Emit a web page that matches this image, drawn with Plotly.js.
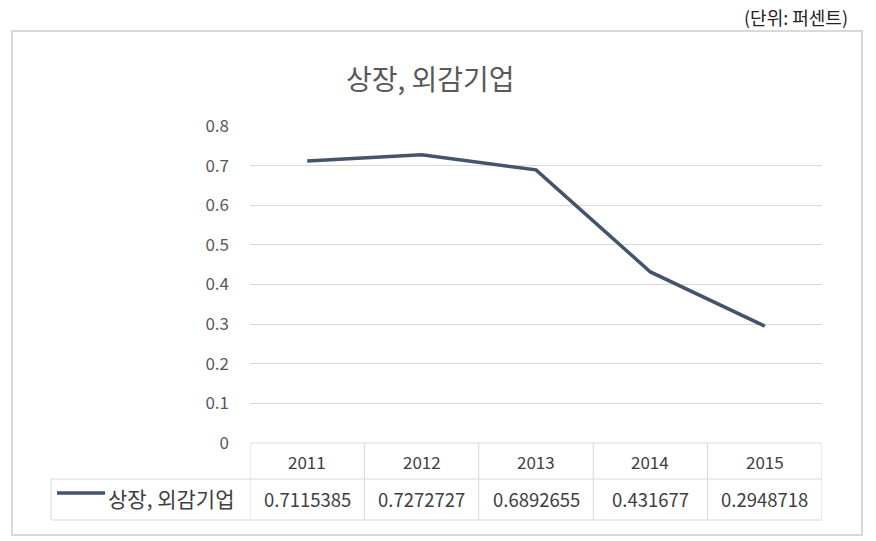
<!DOCTYPE html>
<html><head><meta charset="utf-8">
<script src="https://cdn.plot.ly/plotly-3.0.1.min.js"></script>
<style>html,body{margin:0;padding:0;background:#fff;}#chart{width:876px;height:541px;}</style>
</head><body><div id="chart"></div>
<script>
const categories = ['2011','2012','2013','2014','2015'];
const seriesName = '상장, 외감기업';
const values = [0.7115385, 0.7272727, 0.6892655, 0.431677, 0.2948718];
const valueLabels = ['0.7115385','0.7272727','0.6892655','0.431677','0.2948718'];
const yTicks = [0,0.1,0.2,0.3,0.4,0.5,0.6,0.7,0.8];
const yTickLabels = ['0','0.1','0.2','0.3','0.4','0.5','0.6','0.7','0.8'];

const W=876,H=541, L=250,R=822,T=126,B=443;
const pw=R-L, ph=B-T;
const px = p => (p-L)/pw;
const py = p => (B-p)/ph;
const font = '"Noto Sans CJK KR","Noto Sans",sans-serif';
const grid = '#d9d9d9';
const idx = categories.map((c,i)=>i);

const shapes = [];
const ann = [];
// outer frame
shapes.push({type:'rect',xref:'paper',yref:'paper',x0:px(12),x1:px(862),y0:py(535),y1:py(31),line:{color:'#d9d9d9',width:2},fillcolor:'rgba(0,0,0,0)',layer:'below'});
// table horizontal lines
shapes.push({type:'line',xref:'paper',yref:'paper',x0:0,x1:1,y0:py(443),y1:py(443),line:{color:grid,width:1}});
shapes.push({type:'line',xref:'paper',yref:'paper',x0:px(51),x1:1,y0:py(479),y1:py(479),line:{color:grid,width:1}});
shapes.push({type:'line',xref:'paper',yref:'paper',x0:px(51),x1:1,y0:py(520),y1:py(520),line:{color:grid,width:1}});
shapes.push({type:'line',xref:'paper',yref:'paper',x0:px(51),x1:px(51),y0:py(479),y1:py(520),line:{color:grid,width:1}});
// vertical column lines
for(let i=0;i<=categories.length;i++){
  shapes.push({type:'line',xref:'x',yref:'paper',x0:i-0.5,x1:i-0.5,y0:py(443),y1:py(520),line:{color:grid,width:1}});
}
// legend key line
shapes.push({type:'line',xref:'paper',yref:'paper',x0:px(57),x1:px(105),y0:py(493),y1:py(493),line:{color:'#44546a',width:3.5}});
ann.push({xref:'paper',yref:'paper',x:px(106),y:py(498),xanchor:'left',yanchor:'middle',text:seriesName,showarrow:false,font:{family:font,size:21,color:'#404040'}});
categories.forEach((c,i)=>{
  ann.push({xref:'x',yref:'paper',x:i,y:py(461),text:c,showarrow:false,xanchor:'center',yanchor:'middle',font:{family:font,size:17,color:'#404040'}});
  ann.push({xref:'x',yref:'paper',x:i,y:py(499),text:valueLabels[i],showarrow:false,xanchor:'center',yanchor:'middle',font:{family:font,size:18.5,color:'#404040'}});
});
// title
ann.push({xref:'paper',yref:'paper',x:px(430),y:py(78),text:seriesName,showarrow:false,xanchor:'center',yanchor:'middle',font:{family:font,size:28,color:'#595959'}});
// unit
ann.push({xref:'paper',yref:'paper',x:px(850),y:py(17),text:'(단위: 퍼센트)',showarrow:false,xanchor:'right',yanchor:'middle',font:{family:font,size:18,color:'#222'}});

const trace = {x:idx,y:values,type:'scatter',mode:'lines',line:{color:'#44546a',width:3.5},hoverinfo:'skip',cliponaxis:false};
const layout = {
  width:W,height:H,margin:{l:L,r:W-R,t:T,b:H-B,pad:0},
  paper_bgcolor:'#fff',plot_bgcolor:'#fff',showlegend:false,
  xaxis:{range:[-0.5,categories.length-0.5],showgrid:false,zeroline:false,showticklabels:false,showline:false,ticks:'',fixedrange:true},
  yaxis:{range:[0,0.8],tickvals:yTicks,ticktext:yTickLabels,showgrid:true,gridcolor:grid,gridwidth:1,zeroline:false,showline:false,ticks:'',ticklabelstandoff:20,
    tickfont:{family:font,size:17,color:'#595959'},fixedrange:true},
  shapes:shapes,annotations:ann
};
Plotly.newPlot('chart',[trace],layout,{staticPlot:true,displayModeBar:false});
</script></body></html>
